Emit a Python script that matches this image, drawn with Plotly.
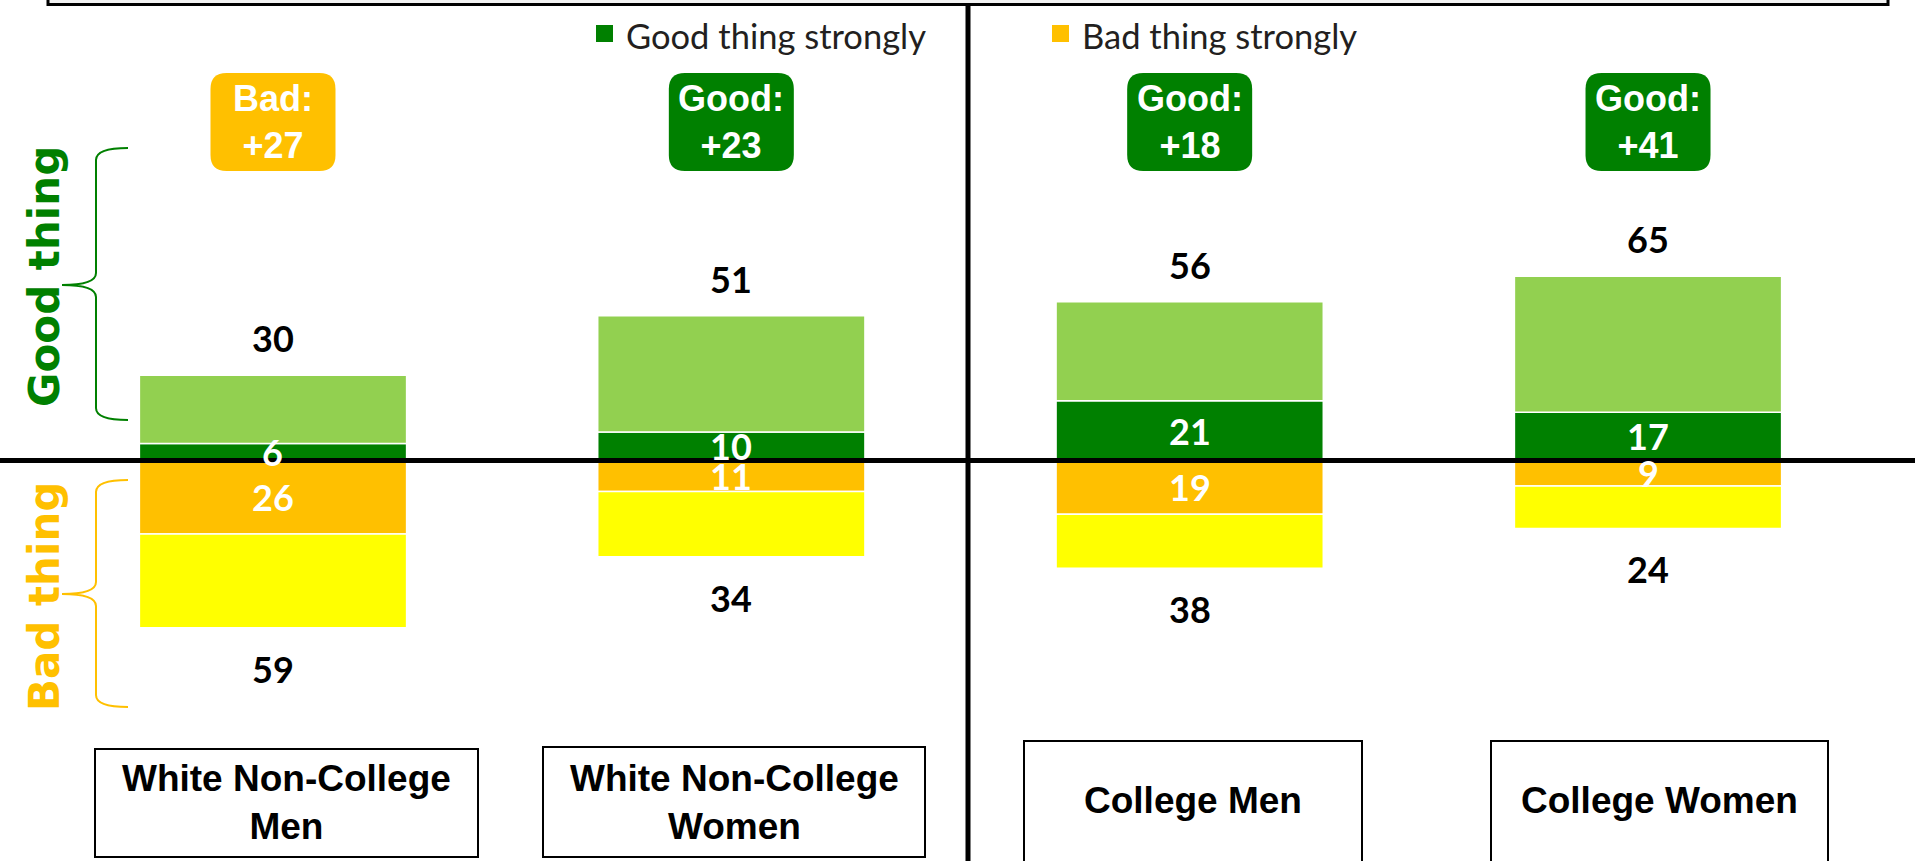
import plotly.graph_objects as go

W, H = 1915, 861

DARK_GREEN = '#008000'
LIGHT_GREEN = '#92D050'
ORANGE = '#FFC000'
YELLOW = '#FFFF00'

groups = ['White Non-College Men', 'White Non-College Women', 'College Men', 'College Women']
group_labels = ['White Non-College<br>Men', 'White Non-College<br>Women', 'College Men', 'College Women']
good_total = [30, 51, 56, 65]
good_strong = [6, 10, 21, 17]
bad_total = [59, 34, 38, 24]
bad_strong = [26, 11, 19, 9]
badge_side = ['Bad', 'Good', 'Good', 'Good']
badge_margin = [27, 23, 18, 41]


def px(x):
    return x / W


def py(y):
    return 1 - y / H


def pathFromPixels(points):
    # points: list of (cmd, [(x, y), ...]) in pixel coords -> paper path
    out = []
    for cmd, pts in points:
        out.append(cmd + ' '.join('%.5f,%.5f' % (px(x), py(y)) for x, y in pts))
    return ' '.join(out)


def bracePath(top, mid, bot, x_end=128, x_bar=96, x_tip=62, r=12):
    return pathFromPixels([
        ('M', [(x_end, top)]),
        ('Q', [(x_bar, top), (x_bar, top + r)]),
        ('L', [(x_bar, mid - r)]),
        ('Q', [(x_bar, mid), (x_tip, mid)]),
        ('Q', [(x_bar, mid), (x_bar, mid + r)]),
        ('L', [(x_bar, bot - r)]),
        ('Q', [(x_bar, bot), (x_end, bot)]),
    ])


def roundedRect(w, h, r):
    a, b = w / 2, h / 2
    return (f'M{-a + r},{-b} L{a - r},{-b} Q{a},{-b} {a},{-b + r} '
            f'L{a},{b - r} Q{a},{b} {a - r},{b} L{-a + r},{b} Q{-a},{b} {-a},{b - r} '
            f'L{-a},{-b + r} Q{-a},{-b} {-a + r},{-b} Z')


def note(fig, text, x, y, font, xref='paper', yref='paper', xanchor='center', **kw):
    fig.add_annotation(x=x, y=y, xref=xref, yref=yref, text=text, showarrow=False,
                       xanchor=xanchor, yanchor='middle', font=font, **kw)


fig = go.Figure()

good_light = [t - s for t, s in zip(good_total, good_strong)]
bad_light = [t - s for t, s in zip(bad_total, bad_strong)]

series = [
    ('Good thing strongly', good_strong, DARK_GREEN),
    ('Good thing', good_light, LIGHT_GREEN),
    ('Bad thing strongly', [-v for v in bad_strong], ORANGE),
    ('Bad thing', [-v for v in bad_light], YELLOW),
]
for name, vals, color in series:
    fig.add_trace(go.Bar(x=groups, y=vals, name=name, marker_color=color,
                         marker_line=dict(color='white', width=1.5),
                         showlegend=False, hoverinfo='skip'))

label_font = dict(family='Lato', size=36, weight='bold')

for i, g in enumerate(groups):
    # totals
    note(fig, str(good_total[i]), g, good_total[i], dict(label_font, color='black'),
         xref='x', yref='y', yshift=37)
    note(fig, str(bad_total[i]), g, -bad_total[i], dict(label_font, color='black'),
         xref='x', yref='y', yshift=-41)
    # strong values inside
    note(fig, str(good_strong[i]), g, good_strong[i] / 2, dict(label_font, color='white'),
         xref='x', yref='y')
    note(fig, str(bad_strong[i]), g, -bad_strong[i] / 2, dict(label_font, color='white'),
         xref='x', yref='y')

    # net badge
    badge_color = ORANGE if badge_side[i] == 'Bad' else DARK_GREEN
    fig.add_shape(type='path', xref='x', xsizemode='pixel', xanchor=g,
                  yref='paper', ysizemode='pixel', yanchor=py(122),
                  path=roundedRect(125, 98, 16), fillcolor=badge_color,
                  line=dict(width=0), layer='above')
    note(fig, f'{badge_side[i]}:<br>+{badge_margin[i]}', g, py(122),
         dict(family='Liberation Sans', size=36, color='white', weight='bold'), xref='x')

# category boxes
boxes = [(95, 478, 749, 857), (543, 925, 747, 857), (1024, 1362, 741, 880), (1491, 1828, 741, 880)]
text_y = [802, 802, 800, 800]
for i, (x0, x1, y0, y1) in enumerate(boxes):
    fig.add_shape(type='rect', xref='paper', yref='paper',
                  x0=px(x0), x1=px(x1), y0=py(y0), y1=py(y1),
                  line=dict(color='black', width=2), fillcolor='white', layer='above')
    note(fig, group_labels[i], px((x0 + x1) / 2), py(text_y[i]),
         dict(family='Liberation Sans', size=37, color='black', weight='bold'))

# top frame (cut off)
fig.add_shape(type='rect', xref='paper', yref='paper',
              x0=px(48), x1=px(1888), y0=py(4.5), y1=py(-20),
              line=dict(color='black', width=3), fillcolor='#F2F2F2')

# quadrant lines
fig.add_shape(type='line', xref='paper', yref='y', x0=0, x1=1, y0=0, y1=0,
              line=dict(color='black', width=5), layer='above')
fig.add_shape(type='line', xref='paper', yref='paper', x0=px(968), x1=px(968),
              y0=py(4), y1=0, line=dict(color='black', width=5), layer='above')

# legend
legend_items = [('Good thing strongly', DARK_GREEN, 596), ('Bad thing strongly', ORANGE, 1052)]
for name, color, x0 in legend_items:
    fig.add_shape(type='rect', xref='paper', yref='paper',
                  x0=px(x0), x1=px(x0 + 17), y0=py(25), y1=py(42),
                  fillcolor=color, line=dict(width=0))
    note(fig, name, px(x0 + 28), py(35), dict(family='Lato', size=34.5, color='#231F20'),
         xanchor='left')

# side labels + braces
note(fig, 'Good thing', px(44), py(277),
     dict(family='DejaVu Sans', size=42, color=DARK_GREEN, weight='bold'), textangle=-90)
note(fig, 'Bad thing', px(44), py(597),
     dict(family='DejaVu Sans', size=42, color=ORANGE, weight='bold'), textangle=-90)
fig.add_shape(type='path', xref='paper', yref='paper', path=bracePath(148, 285, 420),
              line=dict(color=DARK_GREEN, width=2))
fig.add_shape(type='path', xref='paper', yref='paper', path=bracePath(480, 594, 707),
              line=dict(color=ORANGE, width=2))

fig.update_layout(
    width=W, height=H, autosize=False,
    margin=dict(l=0, r=0, t=0, b=0),
    barmode='relative', bargap=0.417,
    plot_bgcolor='white', paper_bgcolor='white',
    showlegend=False,
)
fig.update_xaxes(range=[-0.5956, 3.5825], showgrid=False, zeroline=False,
                 showticklabels=False, showline=False, fixedrange=True)
fig.update_yaxes(range=[-141.3, 162.4], showgrid=False, zeroline=False,
                 showticklabels=False, showline=False, fixedrange=True)

# page body has a default 8px margin; drop it so the figure sits at the window corner
fig.write_html("out.html", config={'displayModeBar': False},
               post_script="document.body.style.margin='0';")
